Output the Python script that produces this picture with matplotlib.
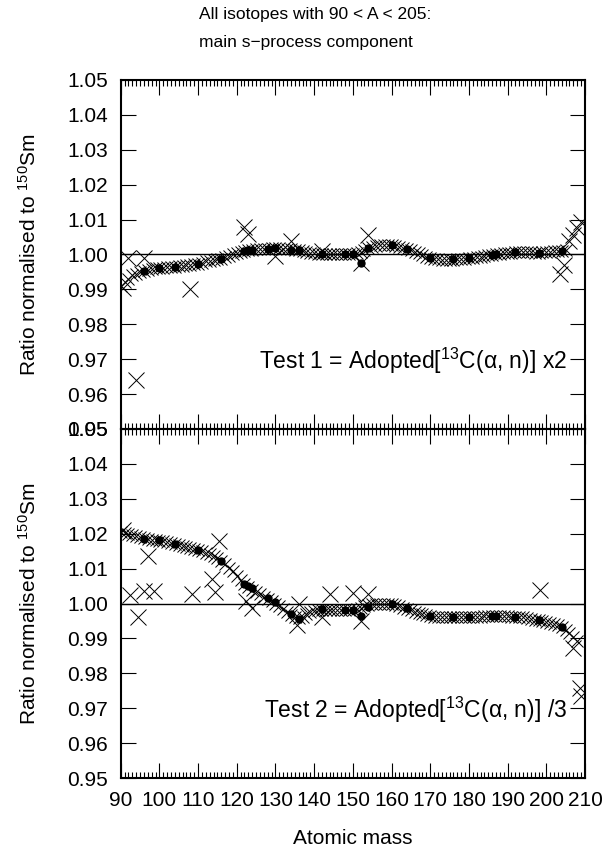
import numpy as np
import matplotlib
matplotlib.use("Agg")
import matplotlib.pyplot as plt
from matplotlib.ticker import MultipleLocator

plt.rcParams['font.family'] = ['Liberation Sans', 'DejaVu Sans']
plt.rcParams['mathtext.fontset'] = 'custom'
plt.rcParams['mathtext.rm'] = 'Liberation Sans'
plt.rcParams['mathtext.default'] = 'regular'

## data
mass = list(range(90, 206))
mass2 = list(range(90, 209))

# Test 1 (x2): dense band, one value per mass number
test1 = [0.9910, 0.9920, 0.9930, 0.9940, 0.9945, 0.9950, 0.9952, 0.9955, 0.9958, 0.9960,
         0.9960, 0.9962, 0.9963, 0.9965, 0.9965, 0.9967, 0.9968, 0.9970, 0.9970, 0.9972,
         0.9973, 0.9976, 0.9980, 0.9982, 0.9985, 0.9987, 0.9988, 0.9992, 0.9996, 1.0000,
         1.0004, 1.0008, 1.0010, 1.0012, 1.0014, 1.0015, 1.0016, 1.0017, 1.0017, 1.0018,
         1.0018, 1.0018, 1.0017, 1.0016, 1.0015, 1.0014, 1.0013, 1.0011, 1.0008, 1.0005,
         1.0003, 1.0001, 1.0000, 1.0000, 1.0000, 1.0000, 1.0000, 1.0000, 1.0000, 1.0000,
         1.0000, 1.0003, 1.0008, 1.0013, 1.0018, 1.0022, 1.0025, 1.0027, 1.0028, 1.0028,
         1.0027, 1.0025, 1.0022, 1.0019, 1.0016, 1.0012, 1.0008, 1.0003, 0.9998, 0.9994,
         0.9990, 0.9988, 0.9986, 0.9985, 0.9984, 0.9984, 0.9985, 0.9986, 0.9987, 0.9988,
         0.9989, 0.9990, 0.9992, 0.9994, 0.9996, 0.9998, 0.9999, 1.0001, 1.0002, 1.0003,
         1.0004, 1.0005, 1.0006, 1.0006, 1.0006, 1.0006, 1.0006, 1.0005, 1.0005, 1.0006,
         1.0007, 1.0008, 1.0009, 1.0010, 1.0010, 1.0012]

# Test 2 (/3)
test2 = [1.0205, 1.0203, 1.0200, 1.0197, 1.0193, 1.0190, 1.0187, 1.0185, 1.0183, 1.0182,
         1.0180, 1.0178, 1.0176, 1.0173, 1.0170, 1.0167, 1.0164, 1.0161, 1.0158, 1.0156,
         1.0153, 1.0150, 1.0146, 1.0141, 1.0135, 1.0129, 1.0122, 1.0113, 1.0103, 1.0092,
         1.0080, 1.0068, 1.0057, 1.0048, 1.0040, 1.0033, 1.0026, 1.0020, 1.0014, 1.0007,
         1.0000, 0.9992, 0.9983, 0.9975, 0.9968, 0.9962, 0.9958, 0.9962, 0.9970, 0.9976,
         0.9979, 0.9980, 0.9980, 0.9980, 0.9980, 0.9980, 0.9980, 0.9980, 0.9980, 0.9980,
         0.9980, 0.9983, 0.9988, 0.9993, 0.9996, 0.9998, 0.9999, 1.0000, 1.0000, 1.0000,
         0.9999, 0.9996, 0.9992, 0.9988, 0.9985, 0.9981, 0.9977, 0.9973, 0.9970, 0.9967,
         0.9964, 0.9962, 0.9961, 0.9960, 0.9960, 0.9960, 0.9960, 0.9960, 0.9960, 0.9960,
         0.9960, 0.9961, 0.9962, 0.9962, 0.9963, 0.9963, 0.9963, 0.9963, 0.9963, 0.9963,
         0.9963, 0.9962, 0.9962, 0.9961, 0.9960, 0.9958, 0.9956, 0.9954, 0.9952, 0.9950,
         0.9948, 0.9945, 0.9942, 0.9937, 0.9932, 0.9925, 0.9915, 0.9903, 0.9893]

# isotopes off the band (large crosses)
out_mass1 = [90.5, 92, 94, 96, 108, 122, 123, 130, 134, 142, 152, 154,
             203.5, 204.5, 206, 207, 208, 209]
out_val1 = [0.9905, 0.9990, 0.9640, 0.9990, 0.9900, 1.0078, 1.0060, 0.9995, 1.0038, 1.0011,
            0.9976, 1.0057, 0.9943, 0.9970, 1.0040, 1.0055, 1.0075, 1.0092]

out_mass2 = [90.5, 92.5, 94.5, 96, 97, 98.5, 108.5, 113.5, 114.5, 115.5, 122.5, 124,
             135.5, 136, 142, 144, 150, 152, 154, 198.5, 207, 208.7, 209]
out_val2 = [1.0210, 1.0025, 0.9960, 1.0035, 1.0135, 1.0035, 1.0028, 1.0070, 1.0032, 1.0178,
            1.0008, 0.9988, 0.9937, 1.0000, 0.9961, 1.0027, 1.0030, 0.9950, 1.0027,
            1.0038, 0.9873, 0.9758, 0.9735]

# s-only isotopes (filled dots)
s_mass = [96, 100, 104, 110, 116, 122, 123, 124, 128, 130, 134, 136, 142, 148, 150,
          152, 154, 160, 164, 170, 176, 180, 186, 187, 192, 198, 204]
s_val1 = [0.9952, 0.9960, 0.9965, 0.9973, 0.9988, 1.0010, 1.0012, 1.0014, 1.0017, 1.0018,
          1.0014, 1.0014, 1.0000, 1.0000, 1.0000, 0.9976, 1.0019, 1.0027, 1.0017, 0.9990,
          0.9987, 0.9989, 0.9998, 1.0002, 1.0006, 1.0005, 1.0010]
s_val2 = [1.0185, 1.0182, 1.0171, 1.0154, 1.0123, 1.0056, 1.0050, 1.0043, 1.0017, 1.0003,
          0.9969, 0.9956, 0.9983, 0.9980, 0.9980, 0.9963, 0.9990, 0.9998, 0.9988, 0.9964,
          0.9960, 0.9960, 0.9963, 0.9963, 0.9962, 0.9952, 0.9933]

labels = ['Test 1 = Adopted[$^{13}$C(\u03b1, n)] x2',
          'Test 2 = Adopted[$^{13}$C(\u03b1, n)] /3']

fig = plt.figure(figsize=(6.04, 8.5), dpi=100)
ax1 = fig.add_axes([0.1998, 0.4953, 0.7687, 0.4106])
ax2 = fig.add_axes([0.1998, 0.0847, 0.7687, 0.4106])

panels = [(ax1, mass, test1, out_mass1, out_val1, s_val1, labels[0]),
          (ax2, mass2, test2, out_mass2, out_val2, s_val2, labels[1])]

for ax, m, band, om, ov, sv, lab in panels:
    ax.axhline(1.0, color='black', lw=1.0, zorder=1)
    ax.plot(m, band, 'x', color='black', ms=9, mew=0.7, zorder=2)
    ax.plot(om, ov, 'x', color='black', ms=12, mew=0.7, zorder=3)
    ax.plot(s_mass, sv, 'o', color='black', ms=5, zorder=4)
    ax.set_xlim(90, 210)
    ax.set_ylim(0.95, 1.05)
    ax.set_xticks(range(90, 211, 10))
    ax.xaxis.set_minor_locator(MultipleLocator(1))
    yt = np.arange(0.95, 1.0501, 0.01)
    ax.set_yticks(yt)
    ax.set_yticklabels(['%.2f' % v for v in yt])
    ax.tick_params(which='both', direction='in', top=True, right=True, width=0.8)
    ax.tick_params(which='major', length=11, labelsize=15, pad=9)
    ax.tick_params(which='minor', length=4.5)
    for s in ax.spines.values():
        s.set_linewidth(1.5)
    ax.set_ylabel('Ratio normalised to $^{150}$Sm', fontsize=15)
    ax.yaxis.set_label_coords(-0.174, 0.5)
    ax.text(205.3, 0.9696, lab, fontsize=16.5, ha='right', va='center')

ax1.tick_params(labelbottom=False)
ax2.set_xlabel('Atomic mass', fontsize=15, labelpad=14)

fig.text(199 / 604, 1 - 15 / 850, 'All isotopes with 90 < A < 205:', fontsize=12.5,
         ha='left', va='center')
fig.text(199 / 604, 1 - 43 / 850, 'main s\u2212process component', fontsize=12.5,
         ha='left', va='center')

fig.savefig('out.png', dpi=100)
